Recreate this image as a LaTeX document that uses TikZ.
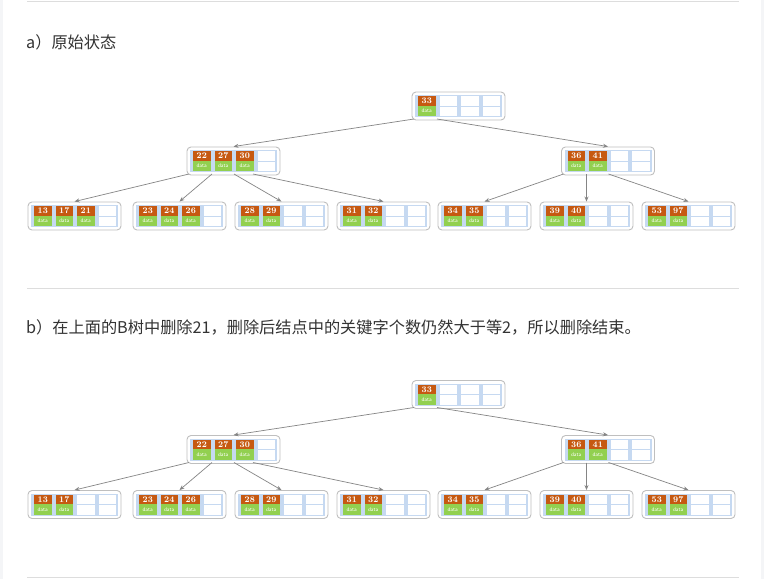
\documentclass[tikz,border=0pt]{standalone}
\usepackage{fontspec}
\newfontfamily\cjk{Noto Sans CJK SC}
\usetikzlibrary{arrows.meta}
\definecolor{keyorange}{HTML}{C65911}
\definecolor{datagreen}{HTML}{92D050}
\definecolor{cellblue}{HTML}{C6D9F1}
\definecolor{boxgray}{HTML}{BFBFBF}
\definecolor{edgegray}{HTML}{858585}
\definecolor{textgray}{HTML}{333333}
\definecolor{sepgray}{HTML}{DDDDDD}
\definecolor{sidegray}{HTML}{F4F5F7}
\tikzset{
  nodebox/.style={draw=boxgray, line width=0.9pt, fill=white, rounded corners=4pt,
    minimum width=93pt, minimum height=28pt, inner sep=0pt},
  keytext/.style={text=white, font=\bfseries\fontsize{8.6}{8.6}\selectfont, inner sep=0pt},
  datatext/.style={text=white, font=\sffamily\fontsize{5.3}{5.3}\selectfont, inner sep=0pt},
  edge/.style={draw=edgegray, line width=0.7pt, -{Stealth[length=5pt,width=4pt]}},
  sepline/.style={draw=sepgray, line width=1pt},
  headtext/.style={anchor=west, inner sep=0pt, text=textgray, font=\cjk\fontsize{16.2}{16.2}\selectfont}
}
% name, X, Y, keys
\newcommand{\btnode}[4]{%
  \node[nodebox] (#1) at ({#2+46.5},{#3+14}) {};
  \fill[cellblue] ({#2+3},{#3+3}) rectangle ({#2+90},{#3+25});
  \foreach \i in {0,...,3}{
    \fill[white] ({#2+6+21.5*\i},{#3+4}) rectangle ({#2+23.5+21.5*\i},{#3+13.5});
    \fill[white] ({#2+6+21.5*\i},{#3+14.5}) rectangle ({#2+23.5+21.5*\i},{#3+24});
  }
  \foreach \k [count=\c from 0] in {#4}{
    \fill[keyorange] ({#2+6+21.5*\c},{#3+4}) rectangle ({#2+23.5+21.5*\c},{#3+13.5});
    \fill[datagreen] ({#2+6+21.5*\c},{#3+13.5}) rectangle ({#2+23.5+21.5*\c},{#3+24});
    \node[keytext] at ({#2+14.75+21.5*\c},{#3+8.9}) {\k};
    \node[datatext] at ({#2+14.75+21.5*\c},{#3+18.8}) {data};
  }
  \coordinate (#1-p0) at ({#2+2},{#3+27});
  \coordinate (#1-p1) at ({#2+25},{#3+27});
  \coordinate (#1-p2) at ({#2+47},{#3+27});
  \coordinate (#1-p3) at ({#2+66},{#3+27});
}
% prefix, y offset, keys of first leaf
\newcommand{\btree}[3]{%
  \btnode{#1r}{412}{92+#2}{33}
  \btnode{#1m1}{187}{147+#2}{22,27,30}
  \btnode{#1m2}{561.5}{147+#2}{36,41}
  \btnode{#1l1}{28}{202+#2}{#3}
  \btnode{#1l2}{133}{202+#2}{23,24,26}
  \btnode{#1l3}{235}{202+#2}{28,29}
  \btnode{#1l4}{337}{202+#2}{31,32}
  \btnode{#1l5}{438}{202+#2}{34,35}
  \btnode{#1l6}{540}{202+#2}{39,40}
  \btnode{#1l7}{642}{202+#2}{53,97}
  \draw[edge] (#1r-p0) -- (#1m1.north);
  \draw[edge] (#1r-p1) -- (#1m2.north);
  \draw[edge] (#1m1-p0) -- (#1l1.north);
  \draw[edge] (#1m1-p1) -- (#1l2.north);
  \draw[edge] (#1m1-p2) -- (#1l3.north);
  \draw[edge] (#1m1-p3) -- (#1l4.north);
  \draw[edge] (#1m2-p0) -- (#1l5.north);
  \draw[edge] (#1m2-p1) -- (#1l6.north);
  \draw[edge] (#1m2-p2) -- (#1l7.north);
}
\begin{document}
\begin{tikzpicture}[x=1pt,y=-1pt]
  \useasboundingbox (0,0) rectangle (764,579);
  \fill[white] (0,0) rectangle (764,579);
  \fill[sidegray] (0,0) rectangle (3,579);
  \fill[sidegray] (761,0) rectangle (764,579);
  \draw[sepline] (27,1) -- (739,1);
  \draw[sepline] (27,288) -- (739,288);
  \draw[sepline] (27,577.5) -- (739,577.5);
  \node[headtext] (ta) at (26,42) {a）原始状态};
  \node[headtext] (tb) at (26,327) {b）在上面的B树中删除21，删除后结点中的关键字个数仍然大于等2，所以删除结束。};
  \btree{a}{0}{13,17,21}
  \btree{b}{288.5}{13,17}
\end{tikzpicture}
\end{document}
